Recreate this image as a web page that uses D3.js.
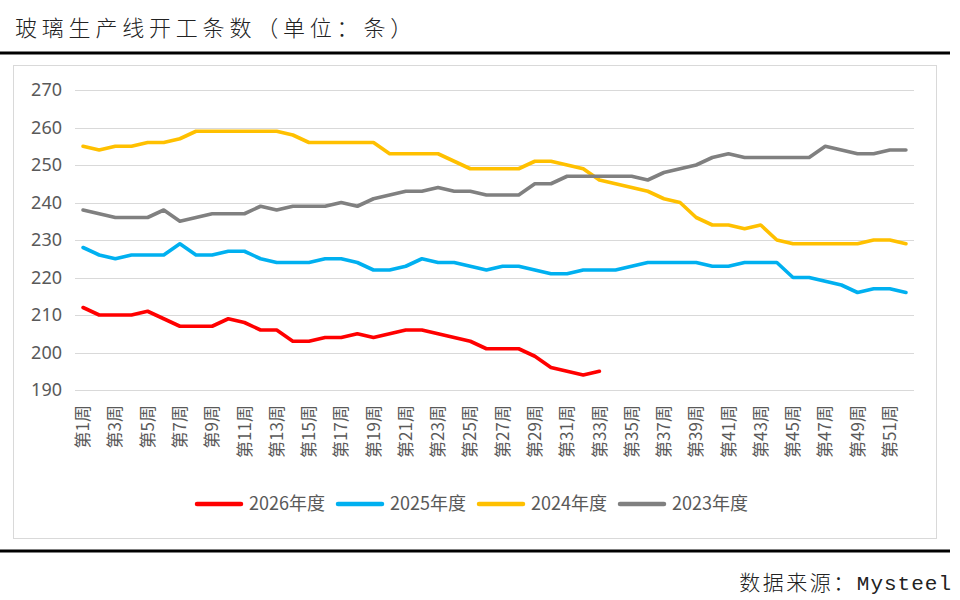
<!DOCTYPE html>
<html><head><meta charset="utf-8">
<script src="https://cdn.jsdelivr.net/npm/d3@7/dist/d3.min.js"></script>
<style>
html,body{margin:0;padding:0;background:#fff;}
svg{display:block;}
</style>
</head><body>
<svg id="chart" width="960" height="600"></svg>
<script>
// ---- data ----
const weeks = d3.range(1, 53).map(w => "第" + w + "周");
const yTicks = [190, 200, 210, 220, 230, 240, 250, 260, 270];
const seriesNames = ["2026年度", "2025年度", "2024年度", "2023年度"];
const seriesColors = ["#FF0000", "#00B0F0", "#FFC000", "#808080"];
const v2026 = [212,210,210,210,211,209,207,207,207,209,208,206,206,203,203,204,204,205,204,205,206,206,205,204,203,201,201,201,199,196,195,194,195];
const v2025 = [228,226,225,226,226,226,229,226,226,227,227,225,224,224,224,225,225,224,222,222,223,225,224,224,223,222,223,223,222,221,221,222,222,222,223,224,224,224,224,223,223,224,224,224,220,220,219,218,216,217,217,216];
const v2024 = [255,254,255,255,256,256,257,259,259,259,259,259,259,258,256,256,256,256,256,253,253,253,253,251,249,249,249,249,251,251,250,249,246,245,244,243,241,240,236,234,234,233,234,230,229,229,229,229,229,230,230,229];
const v2023 = [238,237,236,236,236,238,235,236,237,237,237,239,238,239,239,239,240,239,241,242,243,243,244,243,243,242,242,242,245,245,247,247,247,247,247,246,248,249,250,252,253,252,252,252,252,252,255,254,253,253,254,254];
const seriesValues = [v2026, v2025, v2024, v2023];

// ---- layout ----
const svg = d3.select("#chart");
const plot = {left: 75, right: 914, top: 90, bottom: 390};
const cjk = "'Noto Sans CJK SC','Noto Sans',sans-serif";

// title
svg.append("text").attr("x", 15).attr("y", 36)
  .attr("font-family", cjk).attr("font-size", 22).attr("font-weight", 300)
  .attr("letter-spacing", 4.8).attr("fill", "#222")
  .text("玻璃生产线开工条数（单位：条）");
svg.append("rect").attr("x", 0).attr("y", 51.5).attr("width", 950).attr("height", 3).attr("fill", "#000");
svg.append("rect").attr("x", 0).attr("y", 549.5).attr("width", 950).attr("height", 3).attr("fill", "#000");
// chart frame
svg.append("rect").attr("x", 13.5).attr("y", 65.5).attr("width", 923).attr("height", 473)
  .attr("fill", "none").attr("stroke", "#D9D9D9").attr("stroke-width", 1);
// source
const src = svg.append("text").attr("x", 952).attr("y", 590).attr("text-anchor", "end")
  .attr("font-family", cjk).attr("font-size", 21).attr("font-weight", 300)
  .attr("letter-spacing", 2.5).attr("fill", "#222");
src.append("tspan").text("数据来源：");
src.append("tspan").attr("font-family", "'Liberation Mono','DejaVu Sans Mono',monospace").attr("font-weight", 400).attr("letter-spacing", 1).text("Mysteel");

// scales
const x = d3.scaleBand().domain(weeks).range([plot.left, plot.right]);
const y = d3.scaleLinear().domain([190, 270]).range([plot.bottom, plot.top]);

// gridlines
svg.append("g").selectAll("line").data(yTicks).join("line")
  .attr("x1", plot.left).attr("x2", plot.right)
  .attr("y1", d => Math.round(y(d)) + 0.5).attr("y2", d => Math.round(y(d)) + 0.5)
  .attr("stroke", "#D9D9D9").attr("stroke-width", 1);

// y axis
const yAxis = svg.append("g").attr("transform", `translate(${plot.left},0)`)
  .call(d3.axisLeft(y).tickValues(yTicks).tickSize(0).tickPadding(13));
yAxis.select(".domain").remove();
yAxis.selectAll("text").attr("font-family", "'Noto Sans',sans-serif").attr("font-size", 18).attr("fill", "#595959");

// x axis labels
const xAxis = svg.append("g").attr("transform", `translate(0,${plot.bottom})`)
  .call(d3.axisBottom(x).tickValues(weeks.filter((d, i) => i % 2 === 0)).tickSize(0));
xAxis.select(".domain").remove();
xAxis.selectAll("text")
  .attr("font-family", cjk).attr("font-size", 17).attr("fill", "#595959")
  .attr("transform", "rotate(-90)")
  .attr("text-anchor", "end")
  .attr("x", -15).attr("y", 0).attr("dy", "0.36em");

// lines
const line = d3.line().x((d, i) => x(weeks[i]) + x.bandwidth() / 2).y(d => y(d));
svg.append("g").selectAll("path").data(seriesValues).join("path")
  .attr("d", d => line(d))
  .attr("fill", "none")
  .attr("stroke", (d, i) => seriesColors[i])
  .attr("stroke-width", 3.6)
  .attr("stroke-linejoin", "round")
  .attr("stroke-linecap", "round");

// legend
const leg = svg.append("g").attr("transform", "translate(195,504)");
const items = leg.selectAll("g").data(seriesNames).join("g")
  .attr("transform", (d, i) => `translate(${i * 141},0)`);
items.append("line").attr("x1", 2).attr("x2", 46).attr("y1", 0).attr("y2", 0)
  .attr("stroke", (d, i) => seriesColors[i]).attr("stroke-width", 4.5).attr("stroke-linecap", "round");
items.append("text").attr("x", 54).attr("y", 0).attr("dy", "0.36em")
  .attr("font-family", cjk).attr("font-size", 18).attr("fill", "#595959")
  .text(d => d);
</script>
</body></html>
